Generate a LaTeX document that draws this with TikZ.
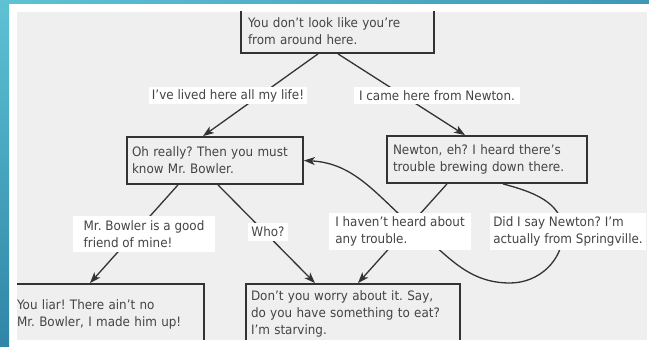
\documentclass[tikz,border=0pt]{standalone}
\usepackage{fontspec}
\setmainfont{DejaVu Sans}[FakeStretch=0.92]
\usetikzlibrary{arrows.meta,calc}
\definecolor{panel}{HTML}{EFEFEF}
\definecolor{ink}{HTML}{333333}
\definecolor{txt}{HTML}{444444}
\definecolor{tealA}{HTML}{5EC2D4}
\definecolor{tealB}{HTML}{2F85A6}
\definecolor{tealC}{HTML}{3E98B6}
\frenchspacing
\begin{document}
\begin{tikzpicture}[x=1pt,y=-1pt,
  every node/.style={font=\fontsize{13}{17}\selectfont, text=txt},
  box/.style={draw=ink, line width=1.8pt, align=left, inner ysep=0pt},
  lbl/.style={fill=white, align=left, inner xsep=3pt, inner ysep=2pt},
  conn/.style={draw=ink, line width=1.3pt},
  arr/.style={conn, -{Stealth[length=11pt,width=8pt,inset=3pt]}}]
\useasboundingbox (0,0) rectangle (649,347);
\fill[white] (0,0) rectangle (649,347);
\shade[top color=tealA, bottom color=tealB] (0,0) rectangle (9,347);
\shade[left color=tealA, right color=tealC] (0,0) rectangle (649,4);
\fill[panel] (17,12) rectangle (647,340);
\begin{scope}
\clip (17,12) rectangle (647,340);
% boxes
\node[box, minimum width=193pt, minimum height=44pt, text width=179pt, inner xsep=7pt] (T) at (337.5,31) {You don't look like you're\\from around here.};
\node[box, minimum width=176pt, minimum height=47pt, text width=166pt, inner xsep=5pt] (B2) at (215,160.5) {Oh really? Then you must\\know Mr. Bowler.};
\node[box, minimum width=200pt, minimum height=47pt, text width=188pt, inner xsep=6pt] (B3) at (487,159.5) {Newton, eh? I heard there's\\trouble brewing down there.};
\node[box, minimum width=193pt, minimum height=60pt, text width=181pt, inner xsep=6pt] (B4) at (107.5,314) {You liar! There ain't no\\Mr. Bowler, I made him up!};
\node[box, minimum width=214pt, minimum height=60pt, text width=204pt, inner xsep=5pt] (B5) at (353,314) {Don't you worry about it. Say,\\do you have something to eat?\\I'm starving.};
% connectors
\coordinate (m1) at (563,232);
\coordinate (m2) at (510,283);
\coordinate (m3) at (418,231);
\draw[arr] ([xshift=-19.5pt]T.south) -- ([xshift=-12pt]B2.north);
\draw[arr] ([xshift=0.5pt]T.south) -- ([xshift=-22pt]B3.north);
\draw[arr] ([xshift=-37pt]B2.south) -- ([xshift=-17.5pt]B4.north);
\draw[arr] ([xshift=3pt]B2.south) -- ([xshift=-38pt]B5.north);
\draw[arr] ([xshift=-40pt]B3.south) -- ([xshift=5pt]B5.north);
\draw[arr] ([xshift=16pt]B3.south) to[out=-15,in=90] (m1)
  to[out=-90,in=0] (m2) to[out=180,in=-40] (m3) to[out=140,in=-3] (B2.east);
% labels
\node[lbl, minimum width=154pt, minimum height=17pt] (L1) at (228,95.5) {I've lived here all my life!};
\node[lbl, minimum width=166pt, minimum height=17pt] (L2) at (437,95.5) {I came here from Newton.};
\node[lbl, minimum width=142pt, minimum height=36pt] (L3) at (144,234) {Mr. Bowler is a good\\friend of mine!};
\node[lbl, minimum width=40pt, minimum height=18pt] (L4) at (268,232) {Who?};
\node[lbl, minimum width=142pt, minimum height=37pt] (L5) at (400,231.5) {I haven't heard about\\any trouble.};
\node[lbl, minimum width=154pt, minimum height=37pt] (L6) at (568,231.5) {Did I say Newton? I'm\\actually from Springville.};
\end{scope}
\end{tikzpicture}
\end{document}
